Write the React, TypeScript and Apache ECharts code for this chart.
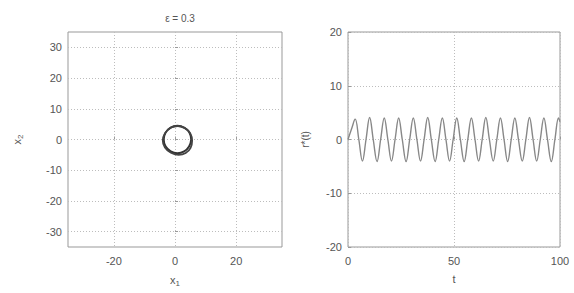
import React, { useEffect, useRef } from "react";
import * as echarts from "echarts";

const titleText = "ε = 0.3";
const phaseTicks = [-30, -20, -10, 0, 10, 20, 30];
const phaseXTicks = [-20, 0, 20];

// phase portrait loops (x1, x2)
const loop1X = [5.3, 4.7, 3.0, 0.8, -1.4, -3.1, -3.7, -3.1, -1.4, 0.8, 3.0, 4.6, 5.3];
const loop1Y = [0.0, 2.3, 3.9, 4.5, 3.9, 2.2, 0.0, -2.2, -3.9, -4.5, -3.9, -2.3, 0.0];
const loop2X = [5.6, 5.0, 3.2, 0.9, -1.5, -3.3, -4.0, -3.3, -1.3, 1.2, 3.5, 5.1, 5.6];
const loop2Y = [-0.4, 2.0, 3.7, 4.4, 3.8, 2.0, -0.3, -2.6, -4.3, -5.0, -4.4, -2.7, -0.4];

// time series r*(t)
const waveT = [0, 1.7, 3.4, 5.1, 6.8, 8.5, 10.2, 11.9, 13.7, 15.4, 17.1, 18.8, 20.5, 22.2, 23.9, 25.6, 27.4, 29.1, 30.8, 32.5, 34.2, 35.9, 37.6, 39.3, 41.1, 42.8, 44.5, 46.2, 47.9, 49.6, 51.3, 53.0, 54.8, 56.5, 58.2, 59.9, 61.6, 63.3, 65.0, 66.7, 68.5, 70.2, 71.9, 73.6, 75.3, 77.0, 78.7, 80.4, 82.2, 83.9, 85.6, 87.3, 89.0, 90.7, 92.4, 94.1, 95.9, 97.6, 99.3, 100];
const waveV = [0.0, 2.0, 3.8, 0.0, -4.0, 0.0, 4.1, 0.0, -4.1, 0.0, 4.0, 0.0, -4.0, 0.0, 4.0, 0.0, -4.1, 0.0, 4.0, 0.0, -4.0, 0.0, 4.1, 0.0, -4.1, 0.0, 4.0, 0.0, -4.0, 0.0, 4.0, 0.0, -4.1, 0.0, 4.0, 0.0, -4.0, 0.0, 4.1, 0.0, -4.0, 0.0, 4.0, 0.0, -4.1, 0.0, 4.0, 0.0, -4.0, 0.0, 4.1, 0.0, -4.0, 0.0, 4.0, 0.0, -4.1, 0.0, 4.0, 3.3];

const axisLabelStyle = { color: "#555", fontSize: 11, fontFamily: "Liberation Sans" };
const splitLineStyle = { show: true, lineStyle: { color: "#bdbdbd", type: [1, 2] as any, width: 1 } };

export default function App() {
  const ref = useRef<HTMLDivElement>(null);
  useEffect(() => {
    if (!ref.current) return;
    const chart = echarts.init(ref.current, null, { renderer: "svg" });
    const sub = { sub: { fontSize: 8, verticalAlign: "bottom", padding: [6, 0, 0, 0], color: "#555" } };
    chart.setOption({
      animation: false,
      backgroundColor: "#fff",
      title: {
        text: titleText,
        left: 175,
        top: 8,
        textAlign: "center",
        textStyle: { fontSize: 10, fontWeight: "normal", color: "#555", fontFamily: "Liberation Sans" },
      },
      grid: [
        { left: 68, top: 32, width: 214, height: 215, show: true, borderColor: "#999", borderWidth: 1, backgroundColor: "transparent" },
        { left: 348, top: 32, width: 212, height: 215, show: true, borderColor: "#999", borderWidth: 1, backgroundColor: "transparent" },
      ],
      xAxis: [
        {
          gridIndex: 0, type: "value", min: -35, max: 35,
          axisLine: { show: false },
          axisTick: { show: true, inside: true, length: 3, customValues: phaseXTicks, lineStyle: { color: "#999" } },
          axisLabel: { ...axisLabelStyle, customValues: phaseXTicks, margin: 8 },
          splitLine: splitLineStyle,
          name: "x{sub|1}", nameLocation: "middle", nameGap: 26,
          nameTextStyle: { color: "#555", fontSize: 11, rich: sub },
        },
        {
          gridIndex: 1, type: "value", min: 0, max: 100, interval: 50,
          axisLine: { show: false },
          axisTick: { show: true, inside: true, length: 3, lineStyle: { color: "#999" } },
          axisLabel: { ...axisLabelStyle, margin: 8 },
          splitLine: splitLineStyle,
          name: "t", nameLocation: "middle", nameGap: 26,
          nameTextStyle: { color: "#555", fontSize: 11 },
        },
      ],
      yAxis: [
        {
          gridIndex: 0, type: "value", min: -35, max: 35,
          axisLine: { show: false },
          axisTick: { show: true, inside: true, length: 3, customValues: phaseTicks, lineStyle: { color: "#999" } },
          axisLabel: { ...axisLabelStyle, customValues: phaseTicks, margin: 6 },
          splitLine: splitLineStyle,
          name: "x{sub|2}", nameLocation: "middle", nameGap: 44,
          nameTextStyle: { color: "#555", fontSize: 11, rich: sub },
        },
        {
          gridIndex: 1, type: "value", min: -20, max: 20, interval: 10,
          axisLine: { show: false },
          axisTick: { show: true, inside: true, length: 3, lineStyle: { color: "#999" } },
          axisLabel: { ...axisLabelStyle, margin: 6 },
          splitLine: splitLineStyle,
          name: "r*(t)", nameLocation: "middle", nameGap: 38,
          nameTextStyle: { color: "#555", fontSize: 10 },
        },
      ],
      series: [
        {
          type: "line", xAxisIndex: 0, yAxisIndex: 0, smooth: true, showSymbol: false,
          lineStyle: { color: "#333", width: 2 },
          data: loop1X.map((x, i) => [x, loop1Y[i]]),
        },
        {
          type: "line", xAxisIndex: 0, yAxisIndex: 0, smooth: true, showSymbol: false,
          lineStyle: { color: "#444", width: 1.8 },
          data: loop2X.map((x, i) => [x, loop2Y[i]]),
        },
        {
          type: "line", xAxisIndex: 1, yAxisIndex: 1, smooth: 0.4, showSymbol: false,
          lineStyle: { color: "#888", width: 1.4 },
          data: waveT.map((t, i) => [t, waveV[i]]),
        },
      ],
    });
    return () => chart.dispose();
  }, []);
  return <div ref={ref} style={{ position: "fixed", left: 0, top: 0, width: 574, height: 293 }} />;
}
